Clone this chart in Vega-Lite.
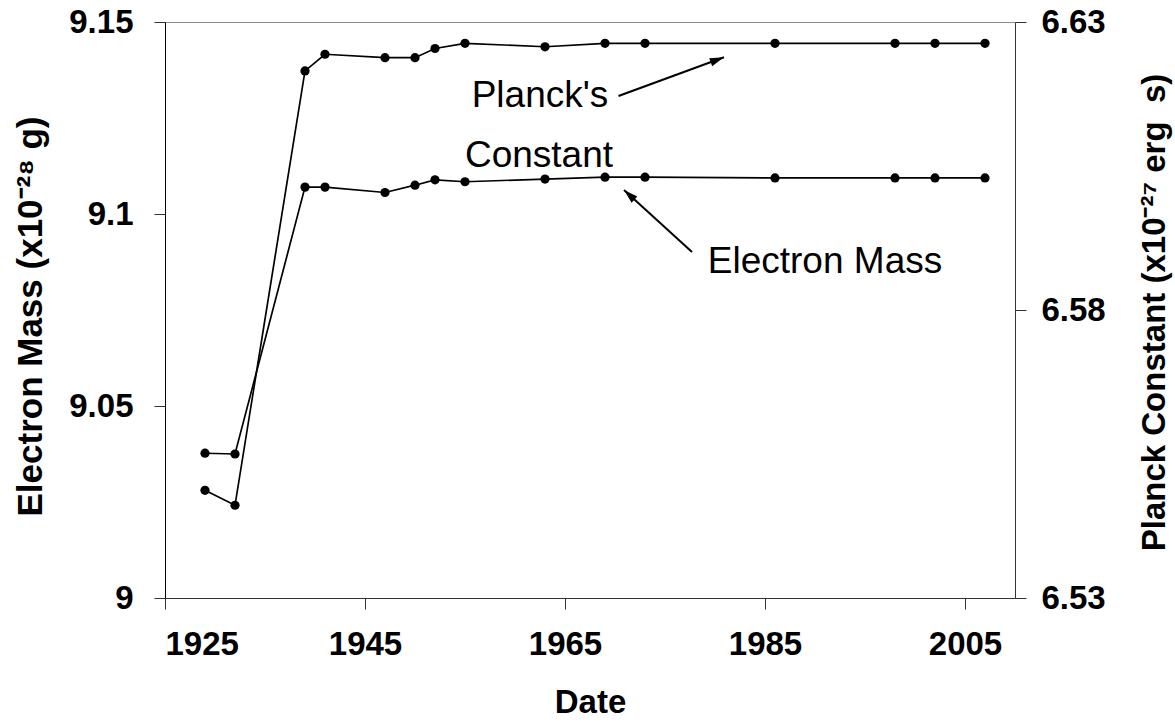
{
  "$schema": "https://vega.github.io/schema/vega-lite/v6.json",
  "width": 850,
  "height": 576,
  "autosize": "none",
  "padding": {"left": 165, "top": 22, "right": 160, "bottom": 129},
  "background": "white",
  "config": {
    "view": {"stroke": "#8c8c8c", "strokeWidth": 1},
    "font": "Liberation Sans",
    "axis": {"grid": false, "labelColor": "#000", "titleColor": "#000", "labelFont": "Liberation Sans", "titleFont": "Liberation Sans", "labelFontWeight": "bold", "titleFontWeight": "bold", "labelFontSize": 33, "titleFontSize": 33, "tickSize": 11, "tickWidth": 1, "domainWidth": 1}
  },
  "datasets": {
    "series": [
      {"series": "Electron Mass", "year": 1929, "value": 9.0377},
      {"series": "Electron Mass", "year": 1932, "value": 9.0375},
      {"series": "Electron Mass", "year": 1939, "value": 9.1070},
      {"series": "Electron Mass", "year": 1941, "value": 9.1070},
      {"series": "Electron Mass", "year": 1947, "value": 9.1056},
      {"series": "Electron Mass", "year": 1950, "value": 9.1075},
      {"series": "Electron Mass", "year": 1952, "value": 9.1089},
      {"series": "Electron Mass", "year": 1955, "value": 9.1084},
      {"series": "Electron Mass", "year": 1963, "value": 9.1091},
      {"series": "Electron Mass", "year": 1969, "value": 9.1096},
      {"series": "Electron Mass", "year": 1973, "value": 9.1096},
      {"series": "Electron Mass", "year": 1986, "value": 9.1094},
      {"series": "Electron Mass", "year": 1998, "value": 9.1094},
      {"series": "Electron Mass", "year": 2002, "value": 9.1094},
      {"series": "Electron Mass", "year": 2007, "value": 9.1094},
      {"series": "Planck Constant", "year": 1929, "value": 6.5487},
      {"series": "Planck Constant", "year": 1932, "value": 6.5461},
      {"series": "Planck Constant", "year": 1939, "value": 6.6215},
      {"series": "Planck Constant", "year": 1941, "value": 6.6244},
      {"series": "Planck Constant", "year": 1947, "value": 6.6238},
      {"series": "Planck Constant", "year": 1950, "value": 6.6238},
      {"series": "Planck Constant", "year": 1952, "value": 6.6254},
      {"series": "Planck Constant", "year": 1955, "value": 6.6263},
      {"series": "Planck Constant", "year": 1963, "value": 6.6257},
      {"series": "Planck Constant", "year": 1969, "value": 6.6263},
      {"series": "Planck Constant", "year": 1973, "value": 6.6263},
      {"series": "Planck Constant", "year": 1986, "value": 6.6263},
      {"series": "Planck Constant", "year": 1998, "value": 6.6263},
      {"series": "Planck Constant", "year": 2002, "value": 6.6263},
      {"series": "Planck Constant", "year": 2007, "value": 6.6263}
    ],
    "planckNotes": [
      {"label": "Planck's", "year": 1962.5, "value": 6.61715},
      {"label": "Constant", "year": 1962.4, "value": 6.60674}
    ],
    "planckArrow": [
      {"year": 1970.35, "value": 6.61715, "year2": 1980.9, "value2": 6.62387}
    ],
    "electronNotes": [
      {"label": "Electron Mass", "year": 1991.0, "value": 9.0875}
    ],
    "electronArrow": [
      {"year": 1977.7, "value": 9.09010, "year2": 1970.9, "value2": 9.10625}
    ]
  },
  "layer": [
    {
      "layer": [
        {
          "data": {"name": "series"},
          "transform": [{"filter": "datum.series === 'Electron Mass'"}],
          "mark": {"type": "line", "color": "#000", "strokeWidth": 1.7, "point": {"filled": true, "size": 85, "color": "#000", "opacity": 1}},
          "encoding": {
            "x": {"field": "year", "type": "quantitative", "title": "Date",
              "scale": {"domain": [1925, 2010], "nice": false, "zero": false},
              "axis": {"values": [1925, 1945, 1965, 1985, 2005], "format": "d", "domainColor": "#333", "tickColor": "#333", "labelPadding": 19, "labelBaseline": "top", "titleY": 104, "titleBaseline": "middle", "titleAlign": "center"}},
            "y": {"field": "value", "type": "quantitative", "title": "Electron Mass (x10⁻²⁸ g)",
              "scale": {"domain": [9, 9.15], "nice": false, "zero": false},
              "axis": {"orient": "left", "values": [9, 9.05, 9.1, 9.15], "format": "~g", "domainColor": "#000", "tickColor": "#333", "labelPadding": 21, "titleFontSize": 35, "titleAngle": 270, "titleX": -135, "titleY": 294, "titleAlign": "center", "titleBaseline": "middle"}}
          }
        },
        {
          "data": {"name": "electronArrow"},
          "mark": {"type": "rule", "color": "#000", "strokeWidth": 2},
          "encoding": {
            "x": {"field": "year", "type": "quantitative", "title": "Date"},
            "y": {"field": "value", "type": "quantitative", "title": "Electron Mass (x10⁻²⁸ g)"},
            "x2": {"field": "year2"},
            "y2": {"field": "value2"}
          }
        },
        {
          "data": {"name": "electronArrow"},
          "mark": {"type": "point", "shape": "M0,0L-0.6,2L0.6,2Z", "filled": true, "color": "#000", "opacity": 1, "size": 200, "angle": 312.4},
          "encoding": {
            "x": {"field": "year2", "type": "quantitative", "title": "Date"},
            "y": {"field": "value2", "type": "quantitative", "title": "Electron Mass (x10⁻²⁸ g)"}
          }
        },
        {
          "data": {"name": "electronNotes"},
          "mark": {"type": "text", "font": "Liberation Sans", "fontSize": 37, "color": "#000", "align": "center", "baseline": "middle"},
          "encoding": {
            "x": {"field": "year", "type": "quantitative", "title": "Date"},
            "y": {"field": "value", "type": "quantitative", "title": "Electron Mass (x10⁻²⁸ g)"},
            "text": {"field": "label"}
          }
        }
      ]
    },
    {
      "layer": [
        {
          "data": {"name": "series"},
          "transform": [{"filter": "datum.series === 'Planck Constant'"}],
          "mark": {"type": "line", "color": "#000", "strokeWidth": 1.7, "point": {"filled": true, "size": 85, "color": "#000", "opacity": 1}},
          "encoding": {
            "x": {"field": "year", "type": "quantitative", "title": "Date"},
            "y": {"field": "value", "type": "quantitative", "title": "Planck Constant (x10⁻²⁷ erg\u00a0\u00a0s)",
              "scale": {"domain": [6.53, 6.63], "nice": false, "zero": false},
              "axis": {"orient": "right", "values": [6.53, 6.58, 6.63], "format": "~g", "domainColor": "#333", "tickColor": "#333", "labelPadding": 15, "titleAngle": 270, "titleX": 139, "titleY": 290, "titleAlign": "center", "titleBaseline": "middle"}}
          }
        },
        {
          "data": {"name": "planckArrow"},
          "mark": {"type": "rule", "color": "#000", "strokeWidth": 2},
          "encoding": {
            "x": {"field": "year", "type": "quantitative", "title": "Date"},
            "y": {"field": "value", "type": "quantitative", "title": "Planck Constant (x10⁻²⁷ erg\u00a0\u00a0s)"},
            "x2": {"field": "year2"},
            "y2": {"field": "value2"}
          }
        },
        {
          "data": {"name": "planckArrow"},
          "mark": {"type": "point", "shape": "M0,0L-0.6,2L0.6,2Z", "filled": true, "color": "#000", "opacity": 1, "size": 200, "angle": 69.9},
          "encoding": {
            "x": {"field": "year2", "type": "quantitative", "title": "Date"},
            "y": {"field": "value2", "type": "quantitative", "title": "Planck Constant (x10⁻²⁷ erg\u00a0\u00a0s)"}
          }
        },
        {
          "data": {"name": "planckNotes"},
          "mark": {"type": "text", "font": "Liberation Sans", "fontSize": 37, "color": "#000", "align": "center", "baseline": "middle"},
          "encoding": {
            "x": {"field": "year", "type": "quantitative", "title": "Date"},
            "y": {"field": "value", "type": "quantitative", "title": "Planck Constant (x10⁻²⁷ erg\u00a0\u00a0s)"},
            "text": {"field": "label"}
          }
        }
      ]
    }
  ],
  "resolve": {"scale": {"y": "independent"}}
}
